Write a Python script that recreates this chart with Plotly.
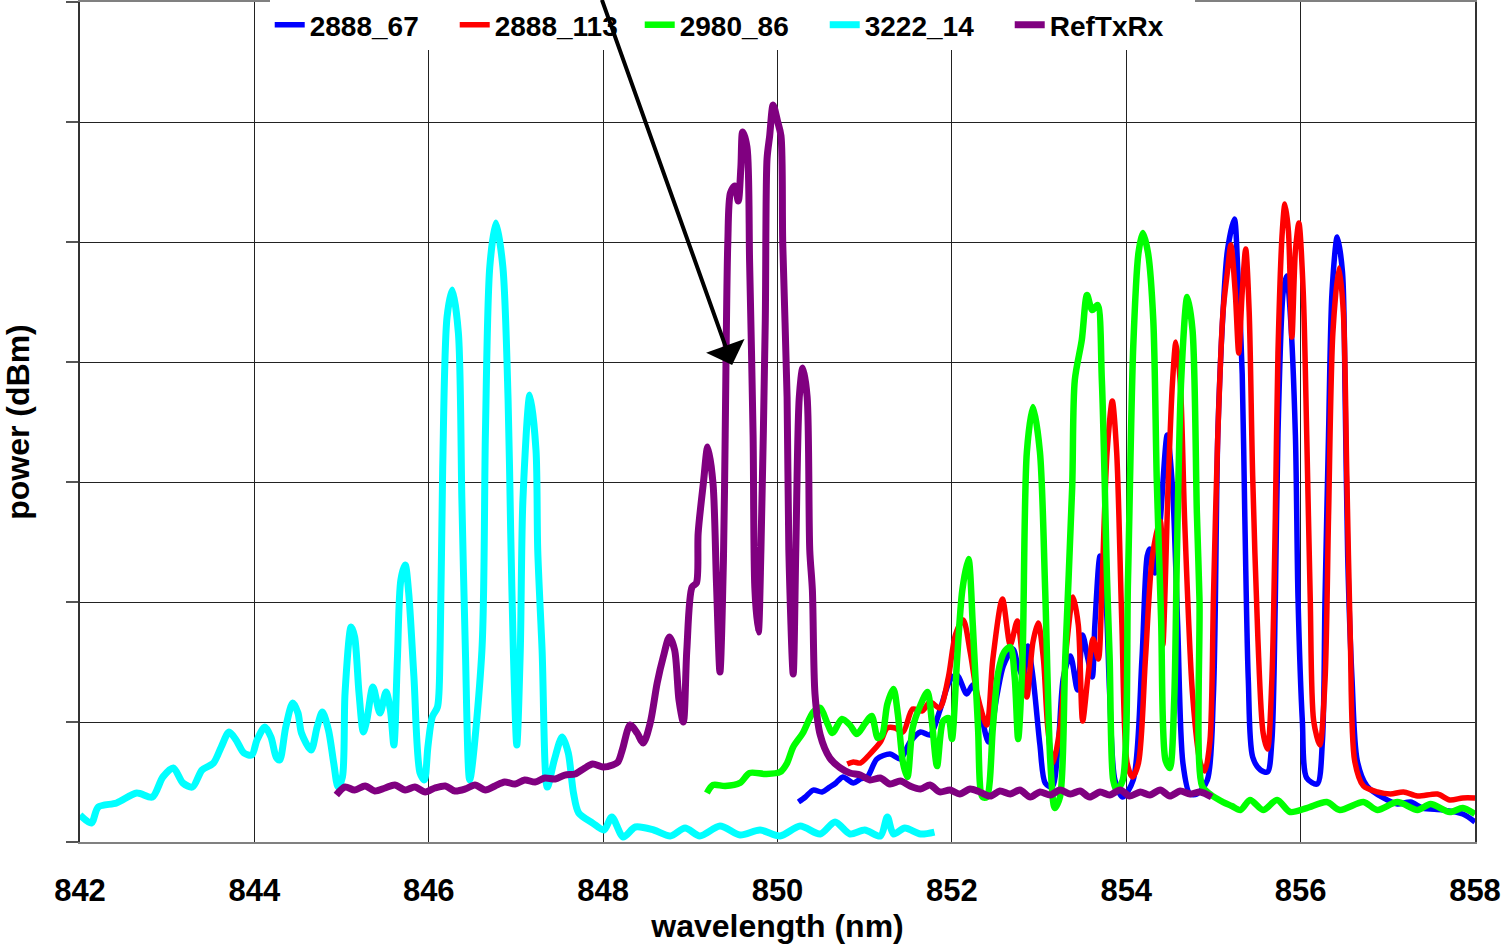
import plotly.graph_objects as go

# ---------------- data (wavelength in nm, power in dBm) ----------------
wl_2888_67 = [850.24, 850.32, 850.41, 850.51, 850.60, 850.67, 850.75, 850.87, 850.95, 851.03,
              851.14, 851.29, 851.41, 851.52, 851.64, 851.75, 851.86, 851.98, 852.06, 852.17,
              852.24, 852.32, 852.42, 852.52, 852.59, 852.70, 852.76, 852.82, 852.87, 852.93,
              853.01, 853.07, 853.15, 853.22, 853.28, 853.36, 853.44, 853.50, 853.56, 853.61,
              853.64, 853.70, 853.76, 853.81, 853.87, 853.96, 854.08, 854.18, 854.24, 854.27,
              854.33, 854.39, 854.47, 854.53, 854.59, 854.65, 854.73, 854.81, 854.93, 855.00,
              855.05, 855.11, 855.16, 855.24, 855.28, 855.33, 855.36, 855.40, 855.45, 855.54,
              855.62, 855.67, 855.71, 855.74, 855.80, 855.84, 855.88, 855.94, 855.97, 856.02,
              856.07, 856.19, 856.25, 856.28, 856.32, 856.36, 856.42, 856.48, 856.51, 856.54,
              856.59, 856.65, 856.76, 856.95, 857.11, 857.26, 857.40, 857.63, 857.86, 858.00]
p_2888_67 = [-66.67, -66.25, -65.67, -65.83, -65.42, -65.08, -64.58, -65.08, -64.75, -64.58,
             -63.08, -62.67, -63.08, -61.67, -60.83, -61.08, -59.08, -56.50, -56.08, -57.67,
             -56.92, -58.83, -61.67, -57.67, -55.33, -53.92, -55.33, -56.25, -53.67, -56.25,
             -61.92, -65.08, -65.42, -61.92, -56.25, -54.50, -57.33, -52.75, -54.75, -56.25,
             -51.92, -46.17, -49.00, -57.67, -64.83, -66.25, -64.83, -54.75, -46.17, -45.58,
             -47.58, -43.25, -36.08, -40.42, -51.92, -63.42, -66.00, -66.00, -64.83, -57.67,
             -36.08, -25.83, -20.75, -18.08, -22.50, -31.00, -42.92, -56.50, -62.92, -64.00,
             -64.17, -61.58, -49.67, -36.08, -24.17, -22.83, -25.83, -36.08, -49.67, -59.92,
             -64.67, -65.17, -61.58, -49.67, -36.08, -24.17, -19.58, -22.50, -32.67, -46.25,
             -56.50, -63.25, -65.33, -66.33, -66.83, -66.67, -67.17, -67.33, -67.67, -68.33]

wl_2888_113 = [850.80, 850.87, 850.95, 851.06, 851.18, 851.26, 851.35, 851.44, 851.55, 851.66,
               851.75, 851.86, 851.96, 852.04, 852.13, 852.21, 852.29, 852.40, 852.47, 852.58,
               852.67, 852.75, 852.81, 852.86, 852.93, 852.99, 853.05, 853.10, 853.16, 853.24,
               853.32, 853.39, 853.45, 853.50, 853.56, 853.62, 853.68, 853.72, 853.78, 853.84,
               853.89, 853.95, 854.01, 854.07, 854.14, 854.22, 854.30, 854.39, 854.42, 854.48,
               854.53, 854.57, 854.62, 854.67, 854.76, 854.85, 854.90, 854.96, 855.00, 855.05,
               855.11, 855.16, 855.20, 855.25, 855.29, 855.33, 855.37, 855.41, 855.45, 855.51,
               855.57, 855.62, 855.67, 855.71, 855.74, 855.79, 855.82, 855.86, 855.90, 855.94,
               855.98, 856.03, 856.07, 856.11, 856.15, 856.22, 856.28, 856.32, 856.37, 856.44,
               856.49, 856.53, 856.57, 856.62, 856.72, 856.88, 857.03, 857.18, 857.34, 857.57,
               857.71, 857.86, 858.00]
p_2888_113 = [-63.50, -63.33, -63.42, -62.67, -61.67, -60.50, -60.50, -60.83, -58.92, -59.08,
              -58.33, -58.83, -56.25, -52.75, -51.50, -54.17, -57.67, -60.25, -54.75, -49.75,
              -53.58, -51.58, -54.75, -57.92, -53.33, -51.75, -54.75, -60.50, -63.42, -60.50,
              -53.33, -49.58, -51.92, -59.92, -56.25, -53.08, -54.75, -49.00, -37.50, -33.25,
              -37.50, -51.92, -63.42, -64.58, -63.42, -54.75, -46.17, -43.25, -53.58, -40.42,
              -31.75, -28.33, -31.75, -43.25, -57.67, -63.42, -64.08, -61.58, -49.67, -36.08,
              -25.83, -22.50, -20.25, -24.17, -29.25, -24.17, -20.58, -25.83, -39.50, -53.08,
              -60.92, -62.25, -56.50, -42.92, -29.25, -19.08, -16.83, -19.08, -27.92, -20.75,
              -18.42, -24.17, -36.08, -49.67, -59.92, -61.92, -56.50, -42.92, -27.58, -22.17,
              -25.83, -39.50, -53.08, -63.25, -65.33, -65.83, -66.00, -65.83, -66.17, -66.00,
              -66.50, -66.33, -66.33]

wl_2980_86 = [849.19, 849.26, 849.40, 849.57, 849.68, 849.86, 850.03, 850.11, 850.18, 850.29,
              850.41, 850.49, 850.57, 850.63, 850.74, 850.83, 850.91, 851.00, 851.08, 851.15,
              851.20, 851.26, 851.33, 851.38, 851.44, 851.49, 851.55, 851.64, 851.72, 851.77,
              851.83, 851.90, 851.96, 852.00, 852.06, 852.12, 852.19, 852.24, 852.30, 852.35,
              852.40, 852.47, 852.53, 852.60, 852.67, 852.72, 852.76, 852.81, 852.86, 852.93,
              853.01, 853.07, 853.13, 853.18, 853.24, 853.30, 853.38, 853.41, 853.49, 853.55,
              853.61, 853.67, 853.72, 853.78, 853.81, 853.85, 853.89, 853.96, 854.02, 854.08,
              854.14, 854.19, 854.25, 854.31, 854.35, 854.40, 854.45, 854.50, 854.55, 854.58,
              854.63, 854.70, 854.76, 854.81, 854.84, 854.87, 854.96, 855.11, 855.21, 855.31,
              855.42, 855.57, 855.73, 855.88, 856.07, 856.30, 856.45, 856.72, 856.88, 857.11,
              857.34, 857.49, 857.71, 857.86, 858.00]
p_2980_86 = [-65.92, -65.25, -65.33, -65.08, -64.25, -64.33, -64.17, -63.42, -62.08, -60.92,
             -59.17, -58.83, -60.08, -60.92, -59.75, -60.25, -61.00, -60.17, -59.50, -61.33,
             -61.08, -58.50, -57.25, -59.33, -63.42, -64.58, -60.50, -58.58, -57.50, -59.92,
             -63.67, -59.92, -59.67, -61.42, -54.75, -49.00, -46.42, -51.92, -60.50, -66.25,
             -66.25, -60.50, -55.92, -54.17, -53.75, -56.25, -61.42, -54.75, -37.50, -33.75,
             -37.50, -49.00, -63.42, -67.17, -66.25, -54.75, -40.42, -31.50, -28.17, -24.42,
             -25.67, -25.25, -31.50, -48.17, -54.75, -64.83, -65.67, -64.83, -48.17, -28.75,
             -20.92, -19.25, -20.92, -26.50, -39.83, -51.50, -63.17, -63.83, -58.17, -46.50,
             -31.50, -24.58, -27.33, -42.58, -49.83, -65.33, -66.00, -66.67, -67.00, -67.33,
             -66.50, -67.33, -66.50, -67.50, -67.17, -66.67, -67.33, -66.67, -67.33, -66.67,
             -67.33, -66.83, -67.50, -67.17, -67.67]

wl_3222_14 = [842.00, 842.13, 842.21, 842.42, 842.65, 842.83, 842.95, 843.07, 843.18, 843.29,
              843.40, 843.53, 843.62, 843.71, 843.79, 843.88, 843.97, 844.03, 844.12, 844.19,
              844.25, 844.29, 844.36, 844.44, 844.50, 844.54, 844.65, 844.72, 844.78, 844.85,
              844.91, 844.96, 845.01, 845.04, 845.11, 845.15, 845.20, 845.25, 845.29, 845.36,
              845.44, 845.51, 845.56, 845.60, 845.64, 845.68, 845.73, 845.77, 845.83, 845.90,
              845.95, 845.99, 846.04, 846.10, 846.13, 846.16, 846.21, 846.27, 846.34, 846.38,
              846.42, 846.47, 846.61, 846.65, 846.70, 846.77, 846.85, 846.91, 846.94, 846.97,
              847.01, 847.05, 847.08, 847.16, 847.23, 847.25, 847.30, 847.36, 847.44, 847.53,
              847.60, 847.66, 847.72, 847.88, 848.01, 848.10, 848.23, 848.37, 848.58, 848.77,
              848.94, 849.11, 849.34, 849.57, 849.80, 850.03, 850.26, 850.49, 850.66, 850.83,
              851.00, 851.18, 851.26, 851.33, 851.46, 851.64, 851.80]
p_3222_14 = [-67.75, -68.42, -67.08, -66.75, -65.92, -66.25, -64.58, -63.83, -65.08, -65.42,
             -64.00, -63.42, -62.08, -60.83, -61.50, -62.58, -62.75, -61.50, -60.42, -61.25,
             -62.92, -63.17, -60.42, -58.42, -59.25, -60.92, -62.33, -60.42, -59.17, -60.67,
             -63.42, -65.42, -64.58, -57.58, -52.08, -52.92, -57.58, -60.83, -59.83, -57.08,
             -59.25, -57.50, -59.00, -61.92, -54.83, -48.17, -46.92, -49.25, -56.25, -64.25,
             -64.83, -62.08, -59.58, -58.75, -54.00, -38.75, -26.25, -24.00, -27.58, -41.50,
             -54.00, -64.83, -54.00, -35.92, -22.08, -18.42, -22.08, -33.17, -44.25, -54.00,
             -61.92, -54.00, -41.50, -32.75, -37.33, -45.67, -54.00, -65.42, -63.17, -61.25,
             -62.58, -65.92, -67.58, -68.42, -69.00, -67.92, -69.58, -68.75, -69.00, -69.50,
             -68.83, -69.50, -68.67, -69.42, -69.00, -69.50, -68.67, -69.33, -68.33, -69.33,
             -69.00, -69.50, -67.92, -69.33, -68.83, -69.33, -69.17]

wl_reftxrx = [844.94, 845.04, 845.15, 845.27, 845.38, 845.50, 845.61, 845.73, 845.84, 845.96,
              846.07, 846.19, 846.30, 846.42, 846.53, 846.65, 846.76, 846.87, 846.99, 847.10,
              847.22, 847.33, 847.45, 847.56, 847.68, 847.79, 847.88, 848.00, 848.11, 848.17,
              848.22, 848.31, 848.39, 848.46, 848.54, 848.62, 848.69, 848.76, 848.82, 848.87,
              848.92, 848.96, 849.02, 849.07, 849.09, 849.15, 849.20, 849.26, 849.30, 849.34,
              849.38, 849.40, 849.43, 849.46, 849.51, 849.55, 849.58, 849.60, 849.65, 849.68,
              849.72, 849.74, 849.78, 849.81, 849.86, 849.88, 849.91, 849.95, 850.00, 850.04,
              850.06, 850.11, 850.13, 850.18, 850.21, 850.25, 850.29, 850.34, 850.37, 850.40,
              850.43, 850.49, 850.60, 850.72, 850.83, 850.95, 851.06, 851.18, 851.29, 851.41,
              851.52, 851.64, 851.75, 851.86, 851.98, 852.09, 852.21, 852.32, 852.44, 852.55,
              852.67, 852.78, 852.90, 853.01, 853.13, 853.24, 853.36, 853.47, 853.58, 853.70,
              853.81, 853.93, 854.04, 854.16, 854.27, 854.39, 854.50, 854.62, 854.73, 854.85,
              854.98]
p_reftxrx = [-66.08, -65.42, -65.67, -65.33, -65.75, -65.50, -65.25, -65.67, -65.42, -65.83,
             -65.50, -65.33, -65.75, -65.58, -65.25, -65.67, -65.33, -65.00, -65.17, -64.83,
             -65.00, -64.67, -64.75, -64.42, -64.33, -63.83, -63.50, -63.75, -63.58, -63.33,
             -62.33, -60.25, -60.92, -61.75, -60.08, -56.75, -54.58, -52.92, -54.00, -58.17,
             -60.00, -54.00, -48.75, -48.42, -44.25, -40.08, -37.08, -40.08, -48.42, -55.83,
             -46.50, -36.08, -20.08, -15.92, -15.33, -16.58, -13.75, -10.83, -12.08, -21.67,
             -36.08, -48.83, -52.50, -45.67, -26.50, -13.08, -11.17, -8.58, -9.92, -11.17,
             -20.08, -32.92, -45.67, -56.00, -45.67, -32.92, -30.50, -32.92, -45.67, -49.00,
             -57.67, -61.08, -63.00, -63.83, -64.25, -64.42, -64.83, -64.67, -65.17, -64.92,
             -65.33, -65.58, -65.25, -65.83, -65.67, -66.00, -65.58, -65.83, -66.17, -65.75,
             -66.00, -65.67, -66.25, -65.83, -66.08, -65.67, -66.00, -65.75, -66.25, -65.83,
             -66.08, -65.67, -66.17, -65.83, -66.08, -65.67, -66.17, -65.75, -66.00, -65.83,
             -66.25]

x_ticks = [842, 844, 846, 848, 850, 852, 854, 856, 858]

series = [
    ("2888_67", wl_2888_67, p_2888_67, "#0000FF", 5.5),
    ("2888_113", wl_2888_113, p_2888_113, "#FF0000", 5.5),
    ("2980_86", wl_2980_86, p_2980_86, "#00FF00", 6.5),
    ("3222_14", wl_3222_14, p_3222_14, "#00FFFF", 7),
    ("RefTxRx", wl_reftxrx, p_reftxrx, "#800080", 7),
]

fig = go.Figure()
for name, xs, ys, color, w in series:
    if len(xs) != len(ys):
        print("length mismatch", name, len(xs), len(ys))
    fig.add_trace(go.Scatter(
        x=xs, y=ys, name=name, mode="lines",
        line=dict(color=color, width=w, shape="spline", smoothing=0.8),
    ))

FONT = "Liberation Sans, Arial, Helvetica, sans-serif"

fig.update_layout(
    width=1503, height=945,
    margin=dict(l=80, r=28, t=2, b=103, autoexpand=False),
    paper_bgcolor="white", plot_bgcolor="white",
    font=dict(family=FONT, color="black"),
    showlegend=True,
    legend=dict(
        orientation="h", x=0.136, xanchor="left", y=0.9726, yanchor="middle",
        bgcolor="white", borderwidth=0,
        font=dict(family=FONT, size=28, color="black", weight="bold"),
        itemwidth=30, tracegroupgap=0,
        entrywidth=140, entrywidthmode="pixels",
    ),
)

fig.update_xaxes(
    range=[842, 858], tickvals=x_ticks, ticktext=[str(v) for v in x_ticks],
    showgrid=True, gridcolor="#222222", gridwidth=1,
    showline=True, linecolor="#808080", linewidth=2, mirror=True,
    ticks="", ticklabelstandoff=20, zeroline=False, automargin=False,
    tickfont=dict(family=FONT, size=31, color="black", weight="bold"),
    title=dict(text="wavelength (nm)", standoff=6,
               font=dict(family=FONT, size=32, color="black", weight="bold")),
)
fig.update_yaxes(
    range=[-70, 0], dtick=10, tick0=0,
    showgrid=True, gridcolor="#222222", gridwidth=1,
    showline=True, linecolor="#333333", linewidth=2, mirror=True,
    ticks="outside", ticklen=12, tickwidth=2, tickcolor="#555555",
    showticklabels=False, zeroline=False, automargin=False,
    title=dict(text="power (dBm)", standoff=28,
               font=dict(family=FONT, size=32, color="black", weight="bold")),
)

# arrow pointing at the reference spectrum
ARROW_TIP = (849.48, -30.25)
ARROW_TAIL = (847.98, 0.3)
fig.add_annotation(
    x=ARROW_TIP[0], y=ARROW_TIP[1], ax=ARROW_TAIL[0], ay=ARROW_TAIL[1],
    xref="x", yref="y", axref="x", ayref="y",
    text="", showarrow=True, arrowhead=1, arrowsize=1.7, arrowwidth=4,
    arrowcolor="black", standoff=0,
)

fig.write_html("out.html", config={"displayModeBar": False},
               post_script="document.body.style.margin='0px';")
